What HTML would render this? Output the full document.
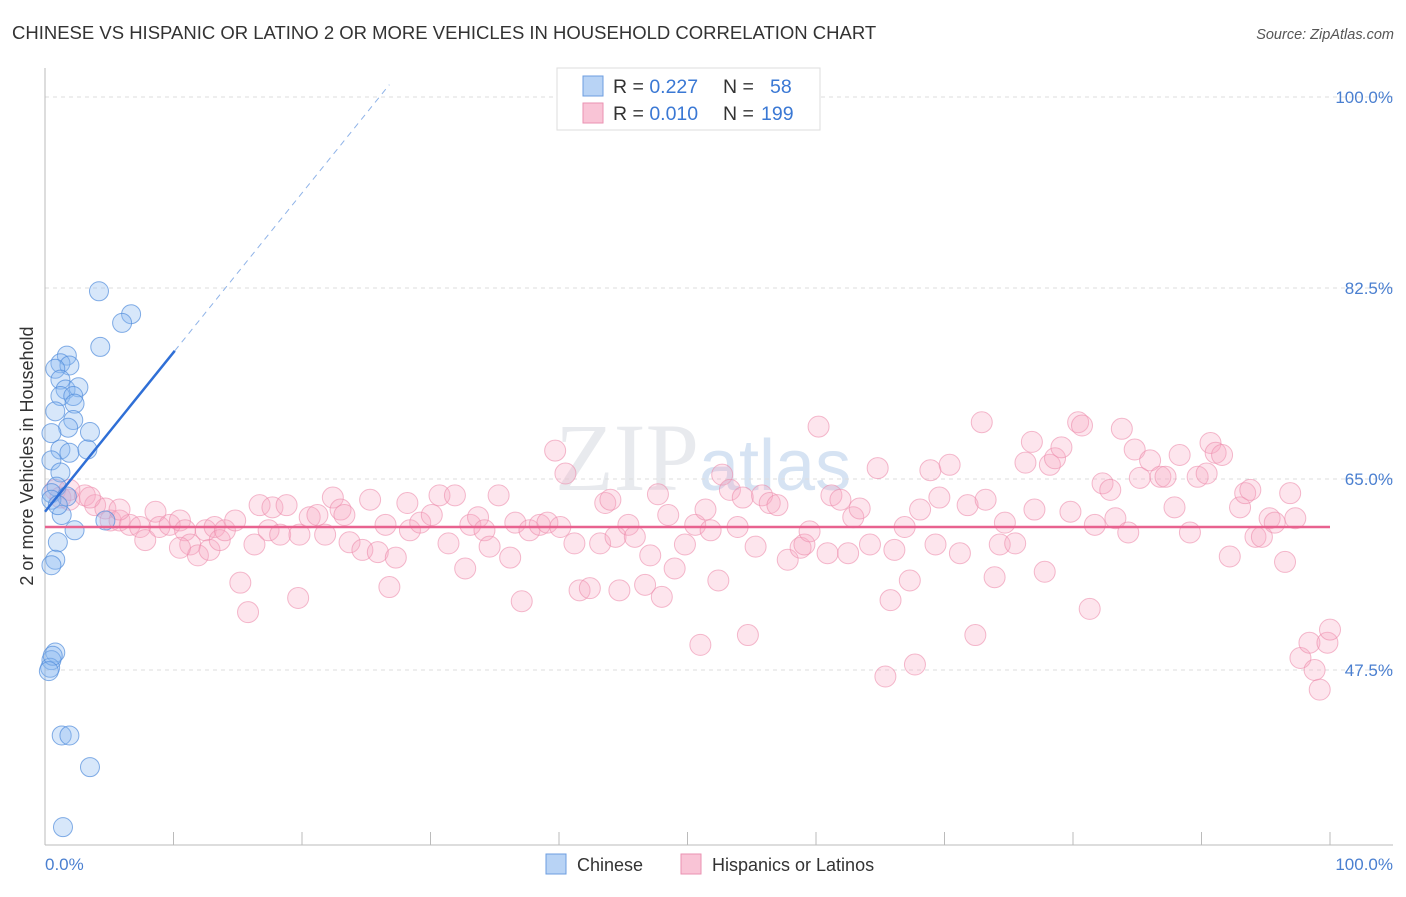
<!DOCTYPE html>
<html><head><meta charset="utf-8"><style>
body{margin:0;background:#fff;font-family:"Liberation Sans",sans-serif}
</style></head><body>
<svg width="1406" height="892" xmlns="http://www.w3.org/2000/svg" id="svg" font-family="Liberation Sans, sans-serif">
<text x="12" y="39" font-size="18.5" fill="#333">CHINESE VS HISPANIC OR LATINO 2 OR MORE VEHICLES IN HOUSEHOLD CORRELATION CHART</text>
<text x="1394" y="39" font-size="14.5" fill="#555" text-anchor="end" font-style="italic">Source: ZipAtlas.com</text>
<text x="555" y="490" font-size="96" fill="#e8eaee" font-family="Liberation Serif, serif">ZIP<tspan font-family="Liberation Sans, sans-serif" font-size="72" fill="#d6e3f3">atlas</tspan></text>
<g id="grid"></g>
<line x1="45" y1="68" x2="45" y2="845" stroke="#bbb"/>
<line x1="45" y1="845" x2="1393" y2="845" stroke="#bbb"/>
<g id="ticks"></g>
<text x="45" y="870" font-size="17" fill="#4a7fd0">0.0%</text>
<text x="1393" y="870" font-size="17" fill="#4a7fd0" text-anchor="end">100.0%</text>
<text transform="translate(33,456) rotate(-90)" font-size="18" fill="#333" text-anchor="middle">2 or more Vehicles in Household</text>
<g id="pink"></g>
<g id="blue"></g>
<g id="trends"></g>
<g>
<rect x="557" y="68" width="263" height="62" fill="#fff" stroke="#ddd"/>
<rect x="583" y="76" width="20" height="20" fill="#b8d3f5" stroke="#6c9ee0"/>
<rect x="583" y="103" width="20" height="20" fill="#f9c4d6" stroke="#ea92b2"/>
<text x="613" y="93" font-size="19.5" fill="#333">R = <tspan fill="#3a78d4">0.227</tspan><tspan x="723">N = </tspan><tspan x="770" fill="#3a78d4">58</tspan></text>
<text x="613" y="120" font-size="19.5" fill="#333">R = <tspan fill="#3a78d4">0.010</tspan><tspan x="723">N = </tspan><tspan x="761" fill="#3a78d4">199</tspan></text>
</g>
<g>
<rect x="546" y="854" width="20" height="20" fill="#b8d3f5" stroke="#6c9ee0"/>
<text x="577" y="871" font-size="18" fill="#333">Chinese</text>
<rect x="681" y="854" width="20" height="20" fill="#f9c4d6" stroke="#ea92b2"/>
<text x="712" y="871" font-size="18" fill="#333">Hispanics or Latinos</text>
</g>
</svg>
<script>
const yTicks=[100,82.5,65,47.5];
const yTickLabels=["100.0%","82.5%","65.0%","47.5%"];
const xTickVals=[10,20,30,40,50,60,70,80,90,100];
const chineseX=[4.2,6.7,6.0,4.3,1.7,1.2,1.9,0.8,1.2,1.6,2.6,1.2,2.2,2.3,0.8,2.2,1.8,3.5,0.5,1.2,1.9,3.3,0.5,1.2,0.9,0.5,1.7,1.3,2.3,1.0,0.8,0.5,4.7,0.8,0.5,0.4,1.3,1.9,3.5,1.4,0.5,1.0,0.6,0.3];
const chineseY=[82.2,80.1,79.3,77.1,76.3,75.6,75.4,75.1,74.1,73.2,73.4,72.6,72.6,71.9,71.2,70.4,69.7,69.3,69.2,67.7,67.4,67.7,66.7,65.6,64.3,63.7,63.4,61.7,60.3,59.2,57.6,57.1,61.2,49.1,48.4,47.7,41.5,41.5,38.6,33.1,63.1,62.6,48.8,47.4];
const hispX=[0.8,1.2,1.9,3.1,3.9,4.7,5.1,5.8,6.6,7.4,7.8,8.6,8.9,9.7,10.5,10.9,11.3,11.9,12.5,12.8,13.2,13.6,14.0,14.8,15.2,15.8,16.3,16.7,17.4,17.7,18.3,18.8,19.7,19.8,20.6,21.2,21.8,22.4,23.0,23.3,23.7,24.7,25.3,25.9,26.5,26.8,27.3,28.2,28.4,29.2,30.1,30.7,31.4,31.9,32.7,33.1,33.7,34.2,34.6,35.3,36.2,36.6,37.1,37.7,38.5,39.1,39.7,40.1,40.5,41.2,41.6,42.4,43.2,43.6,44.0,44.4,44.7,45.4,45.9,46.7,47.1,47.7,48.0,48.5,49.0,49.8,50.6,51.0,51.4,51.8,52.4,52.7,53.3,53.9,54.3,54.7,55.3,55.8,56.4,57.0,57.8,58.8,59.1,59.5,60.2,60.9,61.2,61.9,62.5,62.9,63.4,64.2,64.8,65.4,65.8,66.1,66.9,67.3,67.7,68.1,68.9,69.3,69.6,70.4,71.2,71.8,72.4,72.9,73.2,73.9,74.3,74.7,75.5,76.3,76.8,77.0,77.8,78.2,78.6,79.1,79.8,80.4,80.7,81.3,81.7,82.3,82.9,83.3,83.8,84.3,84.8,85.2,86.0,86.8,87.2,87.9,88.3,89.1,89.7,90.4,90.7,91.1,91.6,92.2,93.0,93.4,93.8,94.2,94.7,95.3,95.7,96.5,96.9,97.3,97.7,98.4,98.8,99.2,99.8,100,10.5,5.8,1.9,3.5];
const hispY=[64.0,63.3,63.1,63.5,62.6,62.3,61.2,61.2,60.8,60.6,59.4,62.0,60.6,60.8,61.2,60.3,59.0,58.0,60.3,58.5,60.6,59.4,60.3,61.2,55.5,52.8,59.0,62.6,60.3,62.4,59.9,62.6,54.1,59.9,61.5,61.7,59.9,63.3,62.2,61.7,59.2,58.5,63.1,58.3,60.8,55.1,57.8,62.8,60.3,61.0,61.7,63.5,59.1,63.5,56.8,60.8,61.5,60.3,58.8,63.5,57.8,61.0,53.8,60.3,60.8,61.0,67.6,60.6,65.5,59.1,54.8,55.0,59.1,62.8,63.1,59.7,54.8,60.8,59.7,55.3,58.0,63.6,54.2,61.7,56.8,59.0,60.8,49.8,62.2,60.3,55.7,65.4,64.0,60.6,63.3,50.7,58.8,63.5,62.8,62.6,57.6,58.7,59.0,60.2,69.8,58.2,63.5,63.1,58.2,61.5,62.3,59.0,66.0,46.9,53.9,58.5,60.6,55.7,48.0,62.2,65.8,59.0,63.3,66.3,58.2,62.6,50.7,70.2,63.1,56.0,59.0,61.0,59.1,66.5,68.4,62.2,56.5,66.3,66.9,67.9,62.0,70.2,69.9,53.1,60.8,64.6,64.0,61.4,69.6,60.1,67.7,65.1,66.7,65.2,65.2,62.4,67.2,60.1,65.2,65.5,68.3,67.4,67.2,57.9,62.4,63.7,64.0,59.7,59.7,61.4,61.0,57.4,63.7,61.4,48.6,50.0,47.5,45.7,50.0,51.2,58.7,62.2,64.0,63.3];
const chineseTrend={intercept:62.0,slope:1.46,solidEnd:10.1,dashEnd:26.8};
const hispTrendY=60.6;

const X=v=>45+v*12.85, Y=v=>97+(100-v)*10.914;
const NS="http://www.w3.org/2000/svg";
function mk(tag,parent,attrs){const e=document.createElementNS(NS,tag);for(const k in attrs)e.setAttribute(k,attrs[k]);document.getElementById(parent).appendChild(e);return e;}
yTicks.forEach((t,i)=>{
  const l=mk('line','grid',{x1:45,x2:1393,y1:Y(t),y2:Y(t),stroke:'#ddd','stroke-dasharray':'4,4'});
  
  
  const tx=mk('text','grid',{x:1393,y:Y(t)+6,'font-size':17,fill:'#4a7fd0','text-anchor':'end'});
  tx.textContent=yTickLabels[i];
  
  
});
xTickVals.forEach(v=>{
  const l=mk('line','ticks',{x1:X(v),x2:X(v),y1:832,y2:845,stroke:'#bbb'});
  
  
});
hispX.forEach((x,i)=>{
  const c=mk('circle','pink',{cx:X(x),cy:Y(hispY[i]),r:10.5,fill:'rgba(248,170,196,0.3)',stroke:'rgba(236,140,172,0.6)','stroke-width':1});
  
  
});
chineseX.forEach((x,i)=>{
  const c=mk('circle','blue',{cx:X(x),cy:Y(chineseY[i]),r:9.5,fill:'rgba(140,185,240,0.35)',stroke:'rgba(80,140,220,0.7)','stroke-width':1});
  
  
});
const ct=chineseTrend;
const l1=mk('line','trends',{x1:X(0),y1:Y(ct.intercept),x2:X(ct.solidEnd),y2:Y(ct.intercept+ct.slope*ct.solidEnd),stroke:'#2f6fd6','stroke-width':2.5});


const l2=mk('line','trends',{x1:X(ct.solidEnd),y1:Y(ct.intercept+ct.slope*ct.solidEnd),x2:X(ct.dashEnd),y2:Y(ct.intercept+ct.slope*ct.dashEnd),stroke:'#8fb3e8','stroke-width':1,'stroke-dasharray':'6,5'});


const l3=mk('line','trends',{x1:X(0),y1:Y(hispTrendY),x2:X(100),y2:Y(hispTrendY),stroke:'#e8628f','stroke-width':2.5});


</script>
</body></html>
